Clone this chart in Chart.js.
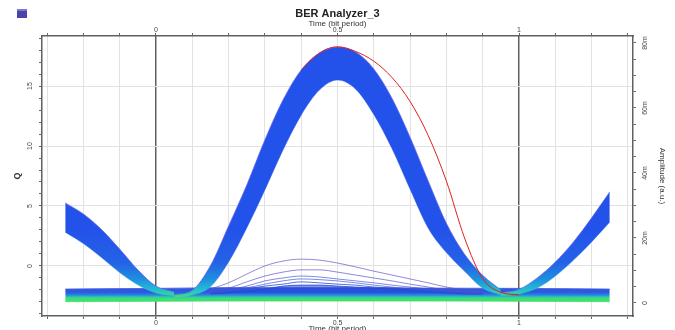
<!DOCTYPE html>
<html>
<head>
<meta charset="utf-8">
<script src="https://cdn.jsdelivr.net/npm/chart.js@4.4.0/dist/chart.umd.min.js"></script>
<style>
  html, body { margin: 0; padding: 0; background: #fff; }
  #wrap { position: relative; width: 675px; height: 330px; }
  #icon { position: absolute; left: 17px; top: 9px; width: 10px; height: 9px; background: #4b44a8; border-top: 2px solid #7a78d0; box-sizing: border-box; }
</style>
</head>
<body>
<div id="wrap">
  <canvas id="eye" width="675" height="330"></canvas>
  <div id="icon"></div>
</div>
<script>
/* ---------- axis ranges ---------- */
const X_MIN = -0.314, X_MAX = 1.314;     // time, bit period
const Q_MIN = -4.17,  Q_MAX = 19.17;     // left axis, Q
const A_MIN = -4.0,   A_MAX = 82.15;     // right axis, amplitude (m a.u.)

/* ---------- tick labels ---------- */
const xTicks = [-0.3,-0.2,-0.1,0,0.1,0.2,0.3,0.4,0.5,0.6,0.7,0.8,0.9,1,1.1,1.2,1.3];
const xTickLabels = [0, 0.5, 1];
const qTicks = [-4,-3,-2,-1,0,1,2,3,4,5,6,7,8,9,10,11,12,13,14,15,16,17,18,19];
const qTickLabels = [0, 5, 10, 15];
const ampTicks = [0,5,10,15,20,25,30,35,40,45,50,55,60,65,70,75,80];
const ampLabelAt = [0, 20, 40, 60, 80];
const ampLabelText = ["0", "20m", "40m", "60m", "80m"];

/* ---------- eye traces (amplitude, m a.u.) ---------- */
// main "1" pulse band: outer and inner edge
const tMain  = [0.05,0.10,0.15,0.20,0.25,0.30,0.35,0.40,0.45,0.50,0.55,0.60,0.65,0.70,0.75,0.80,0.85,0.90,0.95];
const mainHi = [2.5,3.9,11.5,23.7,36.3,50.2,62.5,71.7,76.9,78.8,77.2,72.0,63.0,51.0,37.5,24.5,15.0,8.5,4.0];
const mainLo = [1.5,2.5,5.0,12.6,23.1,34.8,47.1,57.8,65.5,68.6,65.8,58.0,47.5,35.0,23.0,15.5,9.8,4.6,2.5];

// previous bit tail (left) and next bit rise (right)
const tLeft  = [-0.25,-0.20,-0.15,-0.10,-0.05,0.00,0.05];
const leftHi = [30.8,27.4,22.6,16.6,10.2,5.2,3.4];
const leftLo = [21.8,18.3,14.0,9.4,5.6,3.1,2.2];
const tRight  = [0.95,1.00,1.05,1.10,1.15,1.20,1.25];
const rightHi = [3.1,4.2,7.7,12.6,18.8,26.2,34.2];
const rightLo = [2.2,2.8,4.6,8.3,13.2,18.8,24.9];

// "0" level band
const tBase  = [-0.25,0.00,0.25,0.50,0.75,1.00,1.25];
const baseHi = [4.3,4.5,4.8,4.8,4.6,4.5,4.3];
const baseLo = [0.4,0.5,0.6,0.6,0.6,0.5,0.4];

// small bumps over the zero level
const tBump = [0.15,0.20,0.25,0.30,0.35,0.40,0.45,0.50,0.55,0.60,0.65,0.70,0.75,0.80,0.85,0.90];
const bump1 = [4.3,6.2,8.9,11.4,12.9,13.5,13.2,12.3,11.1,9.8,8.6,7.4,6.2,4.9,4.0,3.4];
const bump2 = [3.7,4.6,6.5,8.3,9.5,10.2,10.2,9.5,8.6,7.7,6.8,5.8,4.9,4.0,3.4,3.1];
const bump3 = [3.4,4.0,5.2,6.8,7.7,8.3,8.0,7.4,6.8,6.2,5.5,4.9,4.3,3.7,3.4,3.1];
const bump4 = [3.1,3.7,4.6,5.8,6.8,7.4,7.2,6.8,6.2,5.5,4.9,4.3,3.7,3.4,3.1,2.8];
const bump5 = [3.1,3.4,4.3,5.2,5.8,6.5,6.2,5.8,5.5,4.9,4.6,4.0,3.7,3.4,3.1,2.8];
const bump6 = [2.8,3.1,3.7,4.3,5.2,5.5,5.5,5.2,4.9,4.6,4.3,4.0,3.4,3.1,2.8,2.8];

// the single red trace
const tRed     = [0.40,0.45,0.50,0.55,0.60,0.65,0.70,0.75,0.80,0.85,0.90,0.95,1.00];
const redTrace = [71.7,76.9,78.8,77.4,74.4,69.4,62.0,51.5,37.5,20.0,7.5,3.3,2.5];

/* ---------- helpers ---------- */
const FONT = "'Liberation Sans', Arial, sans-serif";

function pts(ts, vs) {
    return ts.map((t, i) => ({ x: t, y: vs[i] }));
}

function gradient(stops, fallback) {
    return function (context) {
        const chart = context.chart;
        const area = chart.chartArea;
        if (!area) return fallback;
        const g = chart.ctx.createLinearGradient(0, area.top, 0, area.bottom);
        stops.forEach(s => g.addColorStop(s[0], s[1]));
        return g;
    };
}

const bandFill = gradient([
    [0, "#2352ea"], [0.69, "#2352ea"], [0.81, "#2462e6"], [0.87, "#1f8fe0"],
    [0.907, "#22c0d0"], [0.932, "#38e27a"], [1, "#38e27a"]
], "#2352ea");

const baseFill = gradient([
    [0, "#2c58e2"], [0.915, "#2c58e2"], [0.925, "#2a86de"], [0.932, "#2cc8b0"],
    [0.938, "#3ee070"], [1, "#48e060"]
], "#2c58e2");

function band(ts, hi, lo, fill, edgeHi, edgeLo, order) {
    return [
        { data: pts(ts, hi), borderColor: edgeHi, borderWidth: 0.8, backgroundColor: fill, fill: "+1", order: order },
        { data: pts(ts, lo), borderColor: edgeLo, borderWidth: 0.8, fill: false, order: order }
    ];
}

function trace(ts, vs, color, width, order) {
    return { data: pts(ts, vs), borderColor: color, borderWidth: width, fill: false, order: order };
}

function near(list, v) {
    return list.findIndex(l => Math.abs(l - v) < 1e-6);
}

/* ---------- datasets ---------- */
const datasets = [].concat(
    band(tBase, baseHi, baseLo, baseFill, "rgba(70,90,215,0.9)", "rgba(70,220,110,0.9)", 50),
    band(tLeft, leftHi, leftLo, bandFill, "rgba(110,100,235,0.9)", "rgba(60,170,230,0.9)", 40),
    band(tRight, rightHi, rightLo, bandFill, "rgba(110,100,235,0.9)", "rgba(60,170,230,0.9)", 40),
    band(tMain, mainHi, mainLo, bandFill, "rgba(110,100,235,0.9)", "rgba(120,150,240,0.9)", 30),
    [
        trace(tBump, bump1, "rgba(95,80,200,0.85)", 0.8, 20),
        trace(tBump, bump2, "rgba(85,80,205,0.85)", 0.8, 20),
        trace(tBump, bump3, "rgba(70,80,210,0.85)", 0.8, 20),
        trace(tBump, bump4, "rgba(60,80,215,0.85)", 0.8, 20),
        trace(tBump, bump5, "rgba(45,75,215,0.9)", 0.9, 20),
        Object.assign(trace(tBump, bump6, "rgba(35,70,210,0.9)", 0.9, 20),
                      { fill: { value: 3 }, backgroundColor: "rgba(40,75,215,0.55)" }),
        trace(tRed, redTrace, "#e0201a", 1, 10)
    ]
);
datasets.forEach(d => { d.xAxisID = "x"; d.yAxisID = "amp"; });

/* ---------- chart ---------- */
const tickFont = { family: FONT, size: 7 };

function xTickCb(v) {
    return near(xTickLabels, v) >= 0 ? String(v) : "";
}
function xGridColor(c) {
    const v = c.tick ? c.tick.value : null;
    return (v === 0 || v === 1) ? "#606060" : "#e2e2e2";
}
function xGridWidth(c) {
    const v = c.tick ? c.tick.value : null;
    return (v === 0 || v === 1) ? 1.5 : 1;
}

new Chart(document.getElementById("eye"), {
    type: "line",
    data: { datasets: datasets },
    options: {
        responsive: false,
        animation: false,
        events: [],
        layout: { padding: 0 },
        elements: {
            point: { radius: 0 },
            line: { cubicInterpolationMode: "monotone" }
        },
        plugins: {
            legend: { display: false },
            tooltip: { enabled: false },
            title: {
                display: true,
                text: "BER Analyzer_3",
                color: "#222",
                font: { family: FONT, size: 11, weight: "bold", lineHeight: 1 },
                padding: { top: 8.5, bottom: 0 }
            }
        },
        scales: {
            x: {
                type: "linear", position: "bottom", min: X_MIN, max: X_MAX,
                afterBuildTicks: s => { s.ticks = xTicks.map(v => ({ value: v })); },
                afterFit: s => { s.height = 14; },
                ticks: { autoSkip: false, maxRotation: 0, padding: 0, color: "#444", font: tickFont, callback: xTickCb },
                grid: { color: xGridColor, lineWidth: xGridWidth, tickColor: "#666", tickLength: 3 },
                border: { color: "#606060", width: 1.5 },
                title: { display: true, text: "Time (bit period)", color: "#333",
                         font: { family: FONT, size: 8, lineHeight: 1 }, padding: { top: 0, bottom: -2.5 } }
            },
            x2: {
                type: "linear", position: "top", min: X_MIN, max: X_MAX,
                afterBuildTicks: s => { s.ticks = xTicks.map(v => ({ value: v })); },
                afterFit: s => { s.height = 16.5; },
                ticks: { autoSkip: false, maxRotation: 0, padding: -1, color: "#444", font: tickFont, callback: xTickCb },
                grid: { drawOnChartArea: false, color: "#666", tickLength: 3 },
                border: { color: "#606060", width: 1.5 },
                title: { display: true, text: "Time (bit period)", color: "#333",
                         font: { family: FONT, size: 8, lineHeight: 1 }, padding: { top: 0, bottom: 0 } }
            },
            q: {
                type: "linear", position: "left", min: Q_MIN, max: Q_MAX,
                afterBuildTicks: s => { s.ticks = qTicks.map(v => ({ value: v })); },
                afterFit: s => { s.width = 42; },
                ticks: { autoSkip: false, minRotation: 90, maxRotation: 90, crossAlign: "center", padding: 5,
                         color: "#444", font: tickFont,
                         callback: v => near(qTickLabels, v) >= 0 ? String(v) : "" },
                grid: {
                    color: c => (c.tick && near(qTickLabels, c.tick.value) >= 0) ? "#e2e2e2" : "rgba(0,0,0,0)",
                    tickColor: "#666", tickLength: 3
                },
                border: { color: "#606060", width: 1.5 },
                title: { display: true, text: "Q", color: "#333",
                         font: { family: FONT, size: 9, weight: "bold", lineHeight: 1 }, padding: { top: 13.5, bottom: 0 } }
            },
            amp: {
                type: "linear", position: "right", min: A_MIN, max: A_MAX,
                afterBuildTicks: s => { s.ticks = ampTicks.map(v => ({ value: v })); },
                afterFit: s => { s.width = 42; },
                ticks: { autoSkip: false, minRotation: 90, maxRotation: 90, crossAlign: "center", padding: 2,
                         color: "#444", font: tickFont,
                         callback: v => { const i = near(ampLabelAt, v); return i < 0 ? "" : ampLabelText[i]; } },
                grid: { drawOnChartArea: false, color: "#666", tickLength: 3 },
                border: { color: "#606060", width: 1.5 },
                title: { display: true, text: "Amplitude (a.u.)", color: "#333",
                         font: { family: FONT, size: 8, lineHeight: 1 }, padding: { top: 9, bottom: 0 } }
            }
        }
    }
});
</script>
</body>
</html>
